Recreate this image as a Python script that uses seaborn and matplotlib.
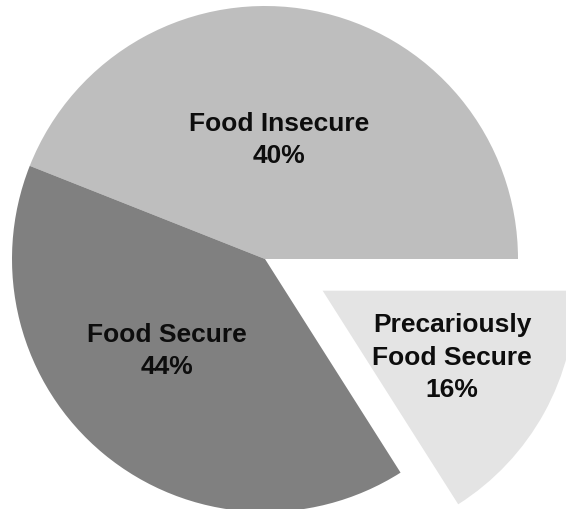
import matplotlib
matplotlib.use("Agg")
import matplotlib.pyplot as plt
import seaborn as sns

# -------------------------
# Data (slice sizes as drawn, and the label text shown on each slice)
# -------------------------
groups = ["Food Insecure", "Food Secure", "Precariously\nFood Secure"]
shares = [44, 40, 16]          # angular share of each drawn wedge
pct_text = ["40%", "44%", "16%"]  # percentages printed on the chart

colors = ["#bebebe", "#808080", "#e4e4e4"]
explode = [0, 0, 0.26]

# label placement (data units, pie radius = 1)
label_xy = [(0.055, 0.474), (-0.387, -0.360), (0.739, -0.387)]

sns.set_style("white")
plt.rcParams["font.family"] = ["Liberation Sans", "DejaVu Sans"]

fig = plt.figure(figsize=(5.66, 5.10), dpi=100)
ax = fig.add_axes([0, 0, 1, 1])

wedges, _ = ax.pie(shares, colors=colors, explode=explode, startangle=0,
                   counterclock=True, radius=1,
                   wedgeprops=dict(linewidth=0))

for (x, y), name, pct in zip(label_xy, groups, pct_text):
    ax.text(x, y, f"{name}\n{pct}", ha="center", va="center",
            fontsize=19, fontweight="bold", color="#0d0d0d",
            linespacing=1.45)

# pie centre at (265, 260) px from top-left, radius 253 px
ax.set_xlim(-265 / 253, (566 - 265) / 253)
ax.set_ylim(-250 / 253, (510 - 250) / 253)
ax.set_aspect("auto")
ax.axis("off")

fig.savefig("out.png", dpi=100, facecolor="white")
